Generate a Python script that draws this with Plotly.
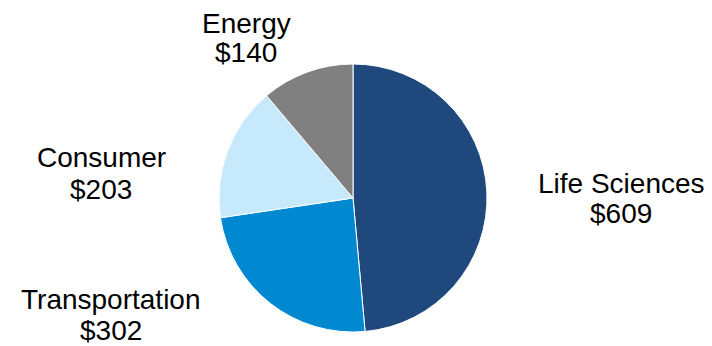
import plotly.graph_objects as go

labels = ["Life Sciences", "Transportation", "Consumer", "Energy"]
values = [609, 302, 203, 140]
colors = ["#1F497D", "#0089D0", "#C6E9FB", "#808080"]

# label placement in pixels: (x center, y of name line, y of value line), from top
label_pos = {
    "Life Sciences": (621, 183, 213),
    "Transportation": (111, 299, 330),
    "Consumer": (101, 158, 189),
    "Energy": (246, 23, 53),
}

W, H = 712, 346
FONT = dict(family="Arial, Liberation Sans, sans-serif", size=28, color="black")

fig = go.Figure(go.Pie(
    labels=labels,
    values=values,
    sort=False,
    direction="clockwise",
    rotation=0,
    marker=dict(colors=colors, line=dict(color="white", width=1)),
    textinfo="none",
    hoverinfo="label+value",
    domain=dict(x=[219 / W, 487 / W], y=[1 - 332 / H, 1 - 64 / H]),
    showlegend=False,
))

for lab, val in zip(labels, values):
    px, py1, py2 = label_pos[lab]
    for txt, py in ((lab, py1), (f"${val}", py2)):
        fig.add_annotation(
            x=px / W, y=1 - py / H, xref="paper", yref="paper",
            text=txt, showarrow=False,
            xanchor="center", yanchor="middle", align="center",
            font=FONT,
        )

fig.update_layout(
    width=W, height=H,
    margin=dict(l=0, r=0, t=0, b=0),
    paper_bgcolor="white", plot_bgcolor="white",
)

fig.write_html("out.html")
